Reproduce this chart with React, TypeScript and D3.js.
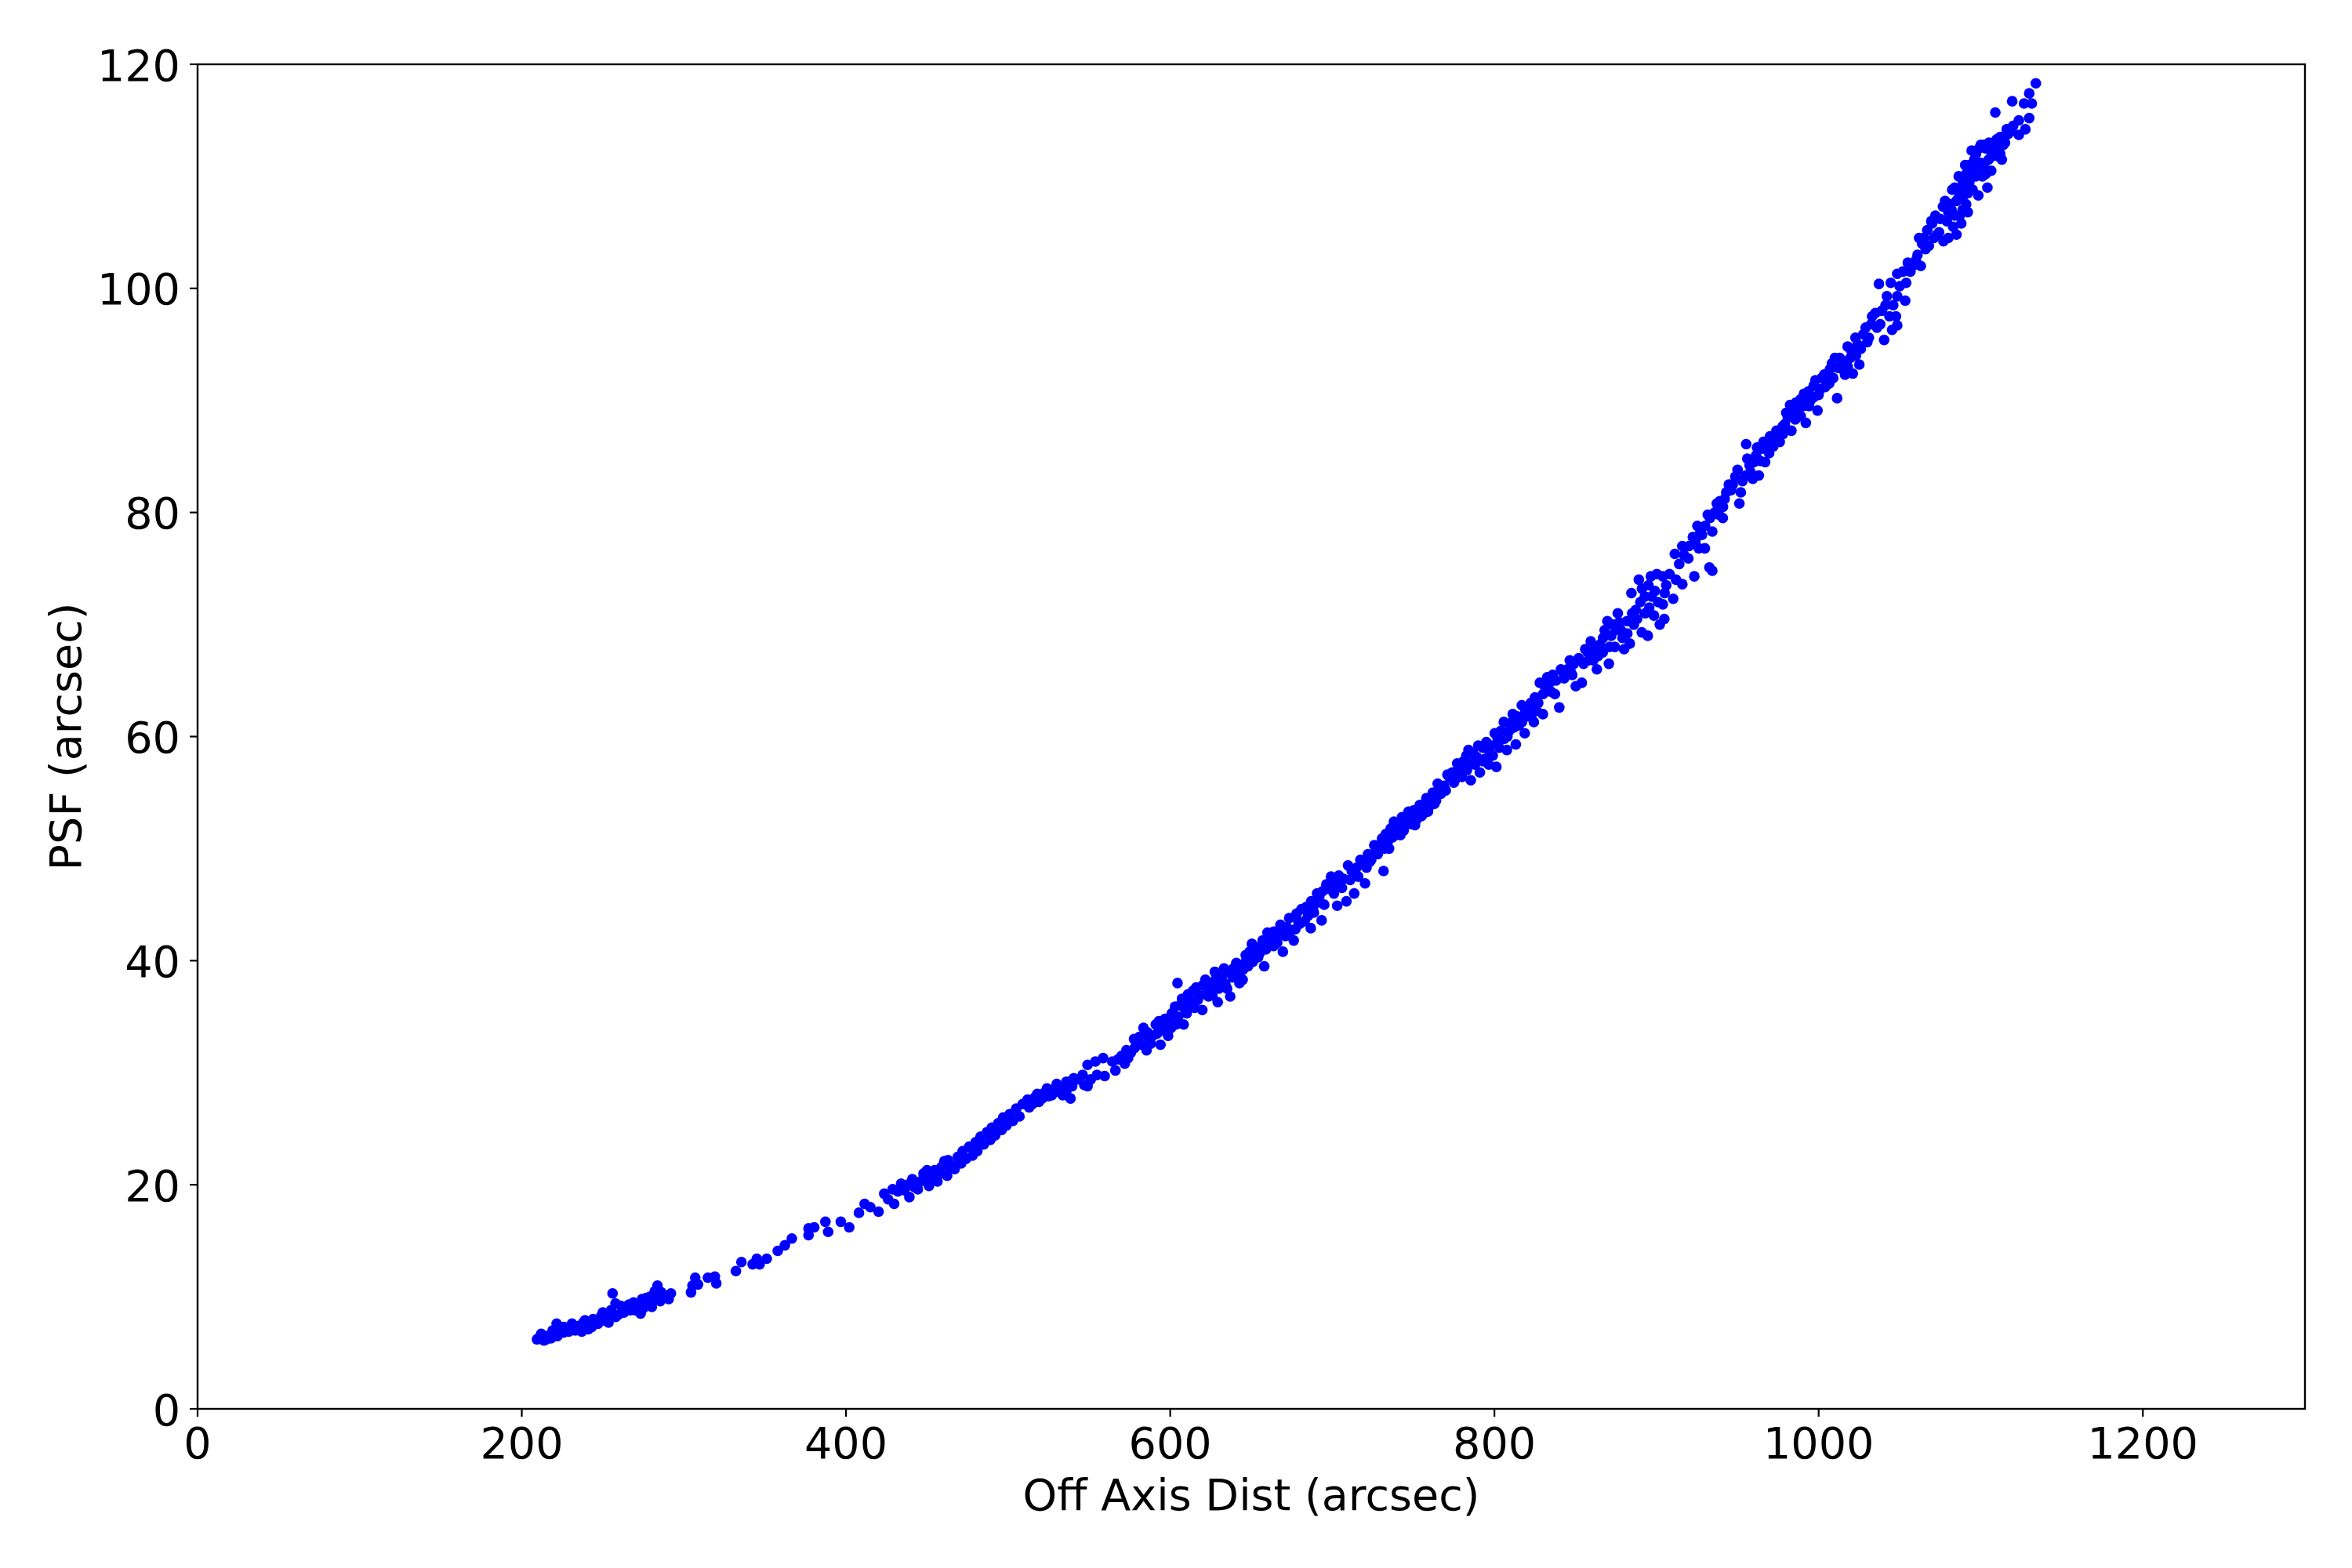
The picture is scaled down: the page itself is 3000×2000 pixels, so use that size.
import React from "react";
import * as d3 from "d3";

type Pt = [number, number];

// Off axis distance (arcsec), PSF (arcsec), grouped by stretch of the band
const band200to300: Pt[] = [
  [209.4, 6.2], [211, 6.4], [213.7, 6.1], [216, 6.5], [218.1, 6.3], [220, 6.6], [221.5, 7.6], [223, 6.9],
  [225.8, 6.8], [228, 7.1], [231, 7.6], [233, 7.0], [235, 7.4], [237, 6.9], [237.9, 7.7], [240, 7.5],
  [243.1, 7.3], [242.2, 7.8], [246, 7.9], [249.1, 8.3], [251, 7.9], [253.5, 7.7], [256, 10.3], [257.8, 9.4],
  [259.5, 8.4], [262, 8.7], [264.7, 8.9], [266, 9.3], [268.1, 9.1], [270, 8.8], [273.3, 8.5], [274.2, 9.8],
  [276.8, 9.9], [278, 9.4], [280.2, 9.1], [282, 10.5], [283.7, 11.0], [285.4, 9.6], [287, 10.0], [290.6, 9.8],
  [212, 6.7], [215, 6.2], [219, 7.0], [222, 6.5], [226, 7.3], [229, 6.9], [232, 7.3], [236, 7.2],
  [239, 7.9], [241, 7.1], [244, 8.0], [247, 7.6], [250, 8.6], [252, 8.1], [255, 8.8], [258, 8.2],
  [261, 9.2], [263, 8.6], [267, 8.8], [269, 9.5], [271, 9.3], [275, 9.0], [277, 9.2], [279, 10.0],
  [281, 9.6], [284, 10.2], [286, 10.4], [289, 10.1], [292, 10.3],
];

const band300to470: Pt[] = [
  [304.4, 10.4], [305.3, 11.0], [307, 11.7], [308.7, 11.1], [314.8, 11.7], [319.1, 11.8], [320, 11.2],
  [332.1, 12.3], [335.5, 13.1], [342.4, 12.9], [345, 13.4], [346.7, 12.9], [351.1, 13.4], [357.9, 14.1],
  [362.3, 14.6], [366.6, 15.2], [376.9, 16.1], [376.9, 15.5], [380.4, 16.2], [387.3, 16.7], [389, 15.8],
  [396.8, 16.7], [402, 16.2], [408, 17.5], [411.5, 18.3], [415, 18.0], [420.1, 17.6], [423.6, 19.2],
  [426, 18.7], [429.7, 18.3], [428.8, 19.6], [432, 19.4], [434, 20.1], [436, 19.5], [439.1, 18.9],
  [440.9, 20.5], [442, 19.8], [444.3, 19.6], [447.8, 21.0], [449, 20.4], [451.2, 19.9], [453, 20.8],
  [454.7, 21.3], [456.4, 20.3], [458, 21.0], [460.7, 22.1], [462.4, 20.8], [464, 21.5], [465.9, 21.7],
  [438, 20.0], [446, 20.3], [450, 21.3], [455, 20.6], [459, 21.6], [463, 22.2],
];

const band470to510: Pt[] = [
  [467, 21.4], [469, 22.5], [471, 21.9], [472, 23.0], [474, 22.3], [476, 23.4], [478, 22.6], [480, 23.8],
  [481, 23.0], [483, 24.3], [485, 23.6], [487, 24.7], [489, 24.0], [490, 25.1], [492, 24.4], [494, 25.5],
  [496, 24.9], [497, 26.0], [499, 25.3], [501, 26.3], [503, 25.7], [505, 26.8], [507, 26.1], [509, 27.2],
];

const band510to560: Pt[] = [
  [510.8, 27.3], [513, 26.9], [516.5, 27.8], [519, 27.4], [522.3, 28.2], [525, 27.9], [528, 28.5],
  [531, 28.3], [533.7, 28.0], [536, 28.4], [538.5, 27.7], [539.5, 28.8], [540.5, 29.5], [549, 28.8],
  [551, 29.4], [554.8, 29.8], [559.6, 29.7], [549, 30.7], [553.8, 31.0], [558.6, 31.3],
  [512, 27.6], [515, 27.2], [518, 28.1], [521, 27.7], [524, 28.6], [527, 28.0], [530, 29.0], [533, 28.6],
  [536, 29.2], [543, 29.4], [546, 29.8], [547, 28.9],
];

const band560to735: Pt[] = [
  [564.3, 31.0], [566.2, 30.2], [570, 31.5], [572, 30.8], [575.8, 31.8], [579.6, 32.8], [577.7, 33.0],
  [583.5, 34.0], [585.4, 32.0], [587, 33.0], [589.2, 33.3], [591.1, 34.3], [594, 32.5], [596.8, 34.8],
  [598.7, 33.3], [600.5, 34.0], [603.6, 34.3], [604.5, 38.0], [607.3, 36.6], [608.3, 34.3], [610.2, 35.3],
  [612, 36.2], [614.1, 37.3], [615, 35.8], [617, 36.5], [619.8, 35.6], [621.7, 38.3], [623.6, 36.8],
  [625, 37.5], [627.5, 39.0], [629.3, 36.3], [631, 38.0], [633.2, 39.3], [635.1, 37.5], [637, 36.8],
  [638.5, 38.5], [640.8, 39.8], [642.7, 38.0], [644.7, 38.3], [646.6, 40.5], [648, 39.5], [650.4, 41.5],
  [652, 40.2], [654.2, 40.3], [656, 41.0], [658, 39.5], [660, 42.5], [662, 41.5], [663.8, 41.3],
  [665.5, 42.0], [667.6, 42.8], [669.5, 40.8], [671, 42.2], [673.4, 43.8], [676.2, 41.8], [677.2, 42.8],
  [679, 43.5], [681, 44.6], [682.9, 43.5], [686.7, 42.9], [688.6, 44.3], [690.6, 46.0], [693.4, 43.6],
  [695, 45.0], [696.3, 46.8], [699.2, 47.5], [701, 46.0], [703, 44.9], [705.9, 46.5], [708.7, 45.3],
  [709.7, 48.5], [711, 47.2], [713.5, 46.0], [717.3, 49.0], [720.2, 46.9], [721.1, 48.3], [723, 48.8],
  [725.9, 50.3], [728, 49.5], [730.7, 50.9], [731.6, 48.0],
  [568, 31.2], [573, 32.0], [574, 31.3], [578, 32.2], [581, 33.2], [582, 32.5], [586, 33.6], [588, 32.6],
  [592, 33.5], [593, 34.6], [595, 33.8], [597, 34.0], [599, 34.7],
  [601, 35.3], [603, 35.9], [605, 35.0], [606, 36.0], [609, 35.7], [611, 37.0], [613, 36.4], [616, 37.6],
  [618, 36.9], [620, 37.8], [622, 37.0], [624, 38.0], [626, 36.9], [628, 38.3], [630, 37.5], [632, 38.6],
  [634, 37.9], [636, 39.0], [639, 39.3], [641, 38.6], [643, 39.6], [645, 39.2], [647, 40.1], [649, 40.8],
  [651, 39.9], [653, 41.2], [655, 40.6], [657, 41.8], [659, 41.0], [661, 42.0], [664, 42.6], [666, 41.6],
  [668, 43.2], [670, 42.5], [672, 43.0], [674, 42.6], [678, 44.2], [680, 43.3], [684, 44.8], [685, 44.0],
  [687, 45.3], [689, 45.0], [692, 45.7], [694, 46.2], [698, 46.4], [700, 47.1], [702, 46.8], [704, 47.6],
  [707, 47.3], [712, 48.0], [715, 48.3], [716, 47.5], [719, 48.6], [722, 49.5], [724, 49.0], [727, 50.0],
  [729, 50.3], [732, 50.0],
];

const band735to768: Pt[] = [
  [734, 50.5], [736, 51.8], [739, 51.2], [741, 52.3], [744, 51.6], [746, 52.8], [748, 52.2], [750, 53.4],
  [752, 52.6], [754, 53.9], [756, 53.1], [758, 54.5], [760, 53.8], [762, 55.0], [764, 54.3], [766, 55.4],
  [733, 51.3], [735, 50.0], [737, 51.0], [738, 52.4], [740, 51.7], [742, 51.2], [743, 52.8], [745, 52.1],
  [747, 53.3], [749, 52.6], [751, 52.1], [753, 53.6], [755, 52.9], [757, 54.0], [759, 53.3], [761, 54.5],
  [763, 54.0], [765, 55.8], [767, 54.9],
];

const band768to945: Pt[] = [
  [768.8, 55.6], [772.5, 56.3], [775, 55.9], [778, 57.0], [780, 56.4], [782.7, 58.3], [785.4, 56.1],
  [788, 57.5], [791, 56.8], [792.9, 59.0], [794, 58.0], [796.5, 57.5], [798, 59.2], [800.2, 60.3],
  [801.2, 57.3], [803, 59.0], [805.8, 61.3], [807.7, 58.8], [809, 60.5], [811.3, 62.0], [813.2, 59.3],
  [815, 61.0], [816.9, 62.8], [818.7, 60.3], [820, 61.8], [822.5, 63.0], [824.3, 61.3], [826, 62.3],
  [828, 64.8], [829.9, 62.0], [832.6, 65.3], [835, 64.0], [837.3, 63.8], [840, 62.6], [841, 66.0],
  [843, 65.2], [846.5, 66.8], [848, 65.5], [850.2, 64.5], [853.9, 64.8], [855, 66.5], [857.6, 67.5],
  [859.4, 68.5], [861, 66.8], [863.2, 66.0], [865, 68.2], [866.8, 67.5], [869.7, 70.3], [870.6, 66.5],
  [872, 69.0], [874.3, 68.0], [876.1, 71.0], [878, 69.5], [880, 67.8], [881.7, 70.3], [883.5, 68.3],
  [884.5, 72.8], [886, 70.0], [887.2, 71.3], [889.1, 74.0], [890.9, 69.3], [892.8, 72.5], [894.6, 69.0],
  [895.5, 71.5], [896.5, 74.3], [898.4, 70.8], [900.2, 74.5], [902, 70.0], [903.9, 74.3], [903.9, 71.8],
  [904.8, 70.5], [905, 72.8], [910.3, 72.3], [914, 75.4], [915.9, 73.6], [923.3, 74.3], [932.6, 75.1],
  [934.4, 74.8], [911.3, 76.3], [915.9, 77.0], [919.6, 75.9], [922.4, 77.8], [926.1, 76.8], [925.2, 78.8],
  [928, 78.0], [929.8, 76.8], [931.6, 79.8], [934.4, 78.3], [937.2, 80.8], [938.5, 79.8], [940.9, 79.5],
  [942, 81.2], [944.6, 82.5],
  [770, 55.2], [771, 56.6], [774, 56.8], [776, 56.2], [777, 57.6], [779, 57.3], [781, 57.8], [783, 57.0],
  [784, 58.8], [786, 57.6], [787, 58.5], [789, 58.2], [790, 59.2], [793, 57.8], [795, 59.5], [797, 58.6],
  [799, 58.3], [802, 59.8], [804, 60.5], [806, 59.8], [808, 60.0], [810, 61.2], [812, 60.8], [814, 61.8],
  [817, 61.3], [819, 62.2], [821, 62.5], [823, 62.0], [825, 63.5], [827, 63.0], [830, 63.8], [831, 64.5],
  [834, 64.8], [836, 65.5], [838, 65.0], [842, 65.8], [845, 66.0], [847, 65.8], [849, 66.5], [852, 67.0],
  [856, 67.8], [858, 66.8], [860, 67.5], [862, 68.0], [864, 67.2], [867, 68.8], [868, 69.5], [871, 68.0],
  [873, 70.0], [875, 69.5], [877, 70.2], [879, 68.8], [882, 69.2], [885, 71.0], [888, 70.5], [890, 72.0],
  [891, 73.2], [893, 71.0], [895, 73.5], [897, 72.5], [899, 73.0], [901, 72.0], [906, 73.5], [908, 74.5],
  [912, 74.0], [917, 76.2], [920, 77.0], [924, 77.5], [927, 78.2], [930, 78.8], [933, 79.5], [936, 80.0],
  [939, 81.0], [941, 80.5], [943, 81.8], [946, 82.0],
];

const band945to1135: Pt[] = [
  [948.6, 83.2], [951.1, 80.8], [952, 81.8], [955, 83.3], [955.3, 86.1], [957.4, 84.2], [959.4, 83.0],
  [961.4, 85.1], [963.1, 83.3], [965.5, 85.7], [967, 84.5], [969.5, 85.3], [971, 86.2], [973.5, 86.9],
  [976, 86.3], [977.9, 87.7], [979.2, 87.9], [981, 88.5], [982.4, 89.6], [983.2, 87.3], [985.6, 88.3],
  [987, 89.2], [988.9, 90.1], [990.5, 89.5], [992.1, 88.0], [993.7, 90.8], [995, 90.0], [996.9, 91.3],
  [999.3, 89.1], [1001, 91.0], [1003.4, 92.3], [1005, 92.4], [1006.5, 91.5], [1008.2, 93.3],
  [1011.4, 90.2], [1013, 93.8], [1014.5, 92.8], [1016.3, 92.3], [1017.9, 94.8], [1019.5, 93.8],
  [1021.1, 92.4], [1022.7, 95.6], [1025.1, 93.2], [1027.6, 95.9], [1030, 95.2], [1032.4, 96.8],
  [1035, 97.8], [1037.2, 100.4], [1038, 96.8], [1040.4, 95.4], [1041.3, 98.5], [1042.1, 99.3],
  [1043.7, 97.5], [1044.5, 100.5], [1045.3, 96.3], [1047.7, 97.5], [1048.5, 101.3], [1048.5, 99.3],
  [1048.5, 96.7], [1053.4, 98.9], [1055, 102.3], [1056.6, 101.5], [1060, 102.5], [1063, 102],
  [1063.8, 104.0], [1066, 103.5], [1069.5, 106.0], [1071.1, 104.5], [1074.3, 105.0], [1076.7, 107.3],
  [1077, 104.2], [1079.1, 106.0], [1080, 104.5], [1081, 107.5], [1082.4, 108.8], [1083, 105.5],
  [1084, 106.5], [1085, 107.8], [1085, 104.8], [1086.4, 110.0], [1087, 108.5], [1088, 105.8],
  [1088.8, 107.0], [1089, 109.5], [1090.4, 111.0], [1091, 110.2], [1092, 108.5], [1092, 106.8],
  [1093, 109.5], [1094.4, 112.3], [1095, 111.0], [1096.9, 110.0], [1097, 112.0], [1098.5, 108.3],
  [1099, 112.5], [1100, 111.2], [1101.7, 112.8], [1102, 111.0], [1103, 110.2], [1104.1, 109.0],
  [1104.9, 111.5], [1106, 112.3], [1106.5, 110.5], [1108, 113.0], [1109.8, 113.3], [1110.5, 111.8],
  [1111, 112.8], [1112, 113.5], [1113, 111.5], [1113.8, 112.8], [1115, 113.0], [1116, 114.2],
  [1118.6, 114.0], [1109, 115.7], [1119.4, 116.7], [1123.5, 113.7], [1123.5, 115.0], [1126.7, 116.5],
  [1127.5, 114.2], [1129.9, 115.2], [1129.9, 117.4], [1131.5, 116.5], [1134, 118.3],
  [947, 82.5], [950, 83.8], [953, 82.8], [956, 84.8], [958, 83.6], [960, 84.5], [962, 85.8], [964, 84.6],
  [966, 86.3], [968, 85.8], [970, 86.8], [972, 85.9], [974, 87.3], [975, 86.5], [978, 87.0], [980, 88.9],
  [984, 88.8], [986, 89.8], [989, 88.6], [991, 90.6], [994, 89.5], [997, 90.3], [998, 91.8], [1000, 90.5],
  [1002, 92.0], [1004, 91.2], [1007, 92.8], [1009, 92.0], [1010, 93.8], [1012, 92.9], [1015, 93.5],
  [1018, 93.0], [1020, 94.5], [1023, 94.0], [1024, 95.0], [1026, 94.6], [1029, 96.5], [1031, 95.6],
  [1033, 97.5], [1036, 96.5], [1039, 98.0], [1046, 98.5], [1050, 100.2], [1052, 101.5], [1054, 100.5],
  [1058, 102.0], [1061, 103.0], [1062, 104.5], [1065, 104.5], [1067, 105.2], [1068, 103.8], [1070, 105.8],
  [1072, 106.5], [1073, 104.8], [1075, 106.2], [1078, 107.8], [1080, 106.8], [1082, 107.0], [1084, 109.0],
  [1086, 108.0], [1087, 106.5], [1089, 108.2], [1090, 109.0], [1091, 107.5], [1093, 111.0], [1094, 110.2],
  [1095, 108.8], [1096, 111.5], [1098, 110.8], [1100, 112.8], [1101, 110.0], [1103, 112.5], [1105, 113.0],
  [1107, 111.8], [1108, 112.2], [1110, 113.0], [1112, 112.0], [1114, 113.5], [1117, 113.8], [1120, 114.5],
];

const allPoints: Pt[] = [
  ...band200to300, ...band300to470, ...band470to510, ...band510to560,
  ...band560to735, ...band735to768, ...band768to945, ...band945to1135,
];

const xTicks = [0, 200, 400, 600, 800, 1000, 1200];
const yTicks = [0, 20, 40, 60, 80, 100, 120];
const xDomain: [number, number] = [0, 1300];
const yDomain: [number, number] = [0, 120];
const xLabel = "Off Axis Dist (arcsec)";
const yLabel = "PSF (arcsec)";

const W = 3000;
const H = 2000;
const left = 252;
const right = 2940;
const top = 82;
const bottom = 1797;
const FONT = "DejaVu Sans, sans-serif";
const FS = 55.6;

export default function App() {
  const x = d3.scaleLinear().domain(xDomain).range([left, right]);
  const y = d3.scaleLinear().domain(yDomain).range([bottom, top]);
  return (
    <svg
      width={W}
      height={H}
      viewBox={`0 0 ${W} ${H}`}
      style={{ position: "absolute", left: 0, top: 0, display: "block", background: "#fff" }}
    >
      <rect x={0} y={0} width={W} height={H} fill="#fff" />
      <g>
        {allPoints.map((p, i) => (
          <circle key={i} cx={x(p[0])} cy={y(p[1])} r={6.8} fill="#0000ff" />
        ))}
      </g>
      <rect
        x={left}
        y={top}
        width={right - left}
        height={bottom - top}
        fill="none"
        stroke="#000"
        strokeWidth={2.4}
      />
      {xTicks.map((t) => (
        <g key={"x" + t}>
          <line x1={x(t)} x2={x(t)} y1={bottom} y2={bottom + 10} stroke="#000" strokeWidth={2.2} />
          <text
            x={x(t)}
            y={bottom + 63}
            textAnchor="middle"
            fontFamily={FONT}
            fontSize={FS}
            fill="#000"
          >
            {t}
          </text>
        </g>
      ))}
      {yTicks.map((t) => (
        <g key={"y" + t}>
          <line x1={left - 10} x2={left} y1={y(t)} y2={y(t)} stroke="#000" strokeWidth={2.2} />
          <text
            x={left - 22}
            y={y(t) + 20.5}
            textAnchor="end"
            fontFamily={FONT}
            fontSize={FS}
            fill="#000"
          >
            {t}
          </text>
        </g>
      ))}
      <text
        x={(left + right) / 2}
        y={1926}
        textAnchor="middle"
        fontFamily={FONT}
        fontSize={FS}
        fill="#000"
      >
        {xLabel}
      </text>
      <text
        transform={`translate(103, ${(top + bottom) / 2}) rotate(-90)`}
        textAnchor="middle"
        fontFamily={FONT}
        fontSize={FS}
        fill="#000"
      >
        {yLabel}
      </text>
    </svg>
  );
}
